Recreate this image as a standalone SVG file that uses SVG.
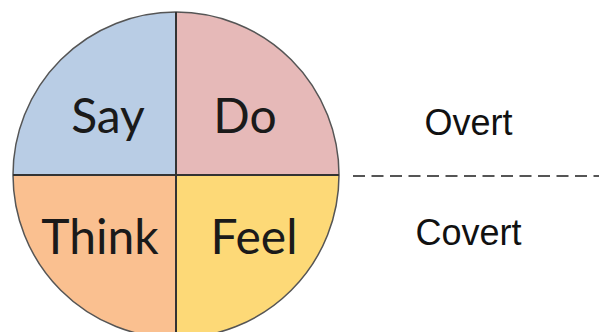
<svg xmlns="http://www.w3.org/2000/svg" width="599" height="332" viewBox="0 0 599 332">
<style>
.q{stroke:none}
.lbl{font-family:Lato,"Open Sans",sans-serif;font-size:48px;fill:#1a1a1a;text-anchor:middle}
.side{font-family:"Liberation Sans",Arial,sans-serif;font-size:36px;fill:#111;text-anchor:middle}
</style>
<rect width="599" height="332" fill="#fff"/>
<g id="say"><path class="q" d="M176,175 L13,175 A163,163 0 0 1 176,12 Z" fill="#b9cde5"/><text class="lbl" x="108" y="133">Say</text></g>
<g id="do"><path class="q" d="M176,175 L176,12 A163,163 0 0 1 339,175 Z" fill="#e6b9b8"/><text class="lbl" x="245" y="133">Do</text></g>
<g id="think"><path class="q" d="M176,175 L176,338 A163,163 0 0 1 13,175 Z" fill="#fac090"/><text class="lbl" x="100" y="254">Think</text></g>
<g id="feel"><path class="q" d="M176,175 L339,175 A163,163 0 0 1 176,338 Z" fill="#fdd977"/><text class="lbl" x="254" y="254">Feel</text></g>
<g id="connectors">
<circle cx="176" cy="175" r="163" fill="none" stroke="#555" stroke-width="1.5"/>
<line x1="176" y1="12" x2="176" y2="338" stroke="#333" stroke-width="2"/>
<line x1="13" y1="175" x2="339" y2="175" stroke="#333" stroke-width="2"/>
<line x1="353" y1="176" x2="599" y2="176" stroke="#555" stroke-width="2" stroke-dasharray="12 6.5"/>
</g>
<g id="overt"><text class="side" x="468.5" y="135">Overt</text></g>
<g id="covert"><text class="side" x="468.5" y="245">Covert</text></g>
</svg>
